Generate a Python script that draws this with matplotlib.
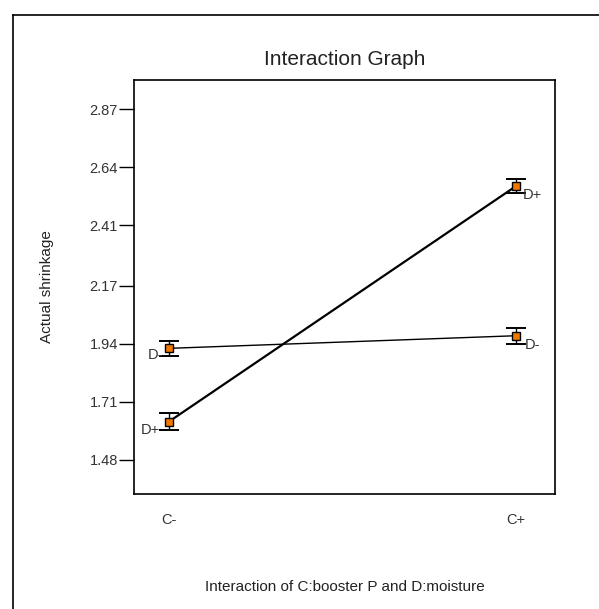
import matplotlib
matplotlib.use("Agg")
import matplotlib.pyplot as plt
from matplotlib.lines import Line2D

plt.rcParams['font.family'] = ['Liberation Sans', 'DejaVu Sans']

levels_c = ["C-", "C+"]
d_minus = [1.922, 1.972]
d_plus = [1.632, 2.565]
err_minus = [0.03, 0.032]
err_plus = [0.032, 0.028]
yticks = [1.48, 1.71, 1.94, 2.17, 2.41, 2.64, 2.87]
ytick_labels = ["1.48", "1.71", "1.94", "2.17", "2.41", "2.64", "2.87"]

W, H = 599, 609
fig = plt.figure(figsize=(W/100, H/100), dpi=100)
ax = fig.add_axes([134/W, 1-494/H, (555-134)/W, (494-80)/H])

x = [0, 1]
ax.plot(x, d_minus, color='black', lw=1.0, zorder=2)
ax.plot(x, d_plus, color='black', lw=1.6, zorder=2)
for ys, es in [(d_minus, err_minus), (d_plus, err_plus)]:
    ax.errorbar(x, ys, yerr=es, fmt='none', ecolor='black', elinewidth=1.0,
                capsize=7.2, capthick=1.4, zorder=3)
    ax.plot(x, ys, ls='none', marker='s', ms=6, mfc='#f07800', mec='black',
            mew=1.0, zorder=4)

# point labels (offsets in pixels converted to points)
px = 0.72
lab_kw = dict(textcoords='offset points', fontsize=10.5, color='#333333',
              va='center', annotation_clip=False)
ax.annotate("D-", (0, d_minus[0]), xytext=(-6*px, -7*px), ha='right', **lab_kw)
ax.annotate("D+", (0, d_plus[0]), xytext=(-9*px, -8*px), ha='right', **lab_kw)
ax.annotate("D+", (1, d_plus[1]), xytext=(7*px, -9*px), ha='left', **lab_kw)
ax.annotate("D-", (1, d_minus[1]), xytext=(9*px, -9*px), ha='left', **lab_kw)

ax.set_xlim(-0.101, 1.112)
ax.set_ylim(1.345, 2.985)
ax.set_yticks(yticks)
ax.set_yticklabels(ytick_labels, fontsize=10.5, color='#333333')
ax.set_xticks(x)
ax.set_xticklabels(levels_c, fontsize=10.5, color='#333333')
ax.tick_params(axis='x', length=0, pad=14)
ax.tick_params(axis='y', length=11, width=1, pad=0.5)
for s in ax.spines.values():
    s.set_linewidth(1.2)

ax.set_title("Interaction Graph", fontsize=15, pad=11, color='#222222')
ax.set_ylabel("Actual shrinkage", fontsize=11, color='#222222', labelpad=26)
ax.set_xlabel("Interaction of C:booster P and D:moisture", fontsize=11,
              color='#222222', labelpad=38)

# outer frame
fig.add_artist(Line2D([13/W, 1], [1-15/H, 1-15/H], color='black', lw=1.2,
                      transform=fig.transFigure))
fig.add_artist(Line2D([13/W, 13/W], [1-15/H, 0], color='black', lw=1.2,
                      transform=fig.transFigure))

fig.savefig("out.png", dpi=100)
